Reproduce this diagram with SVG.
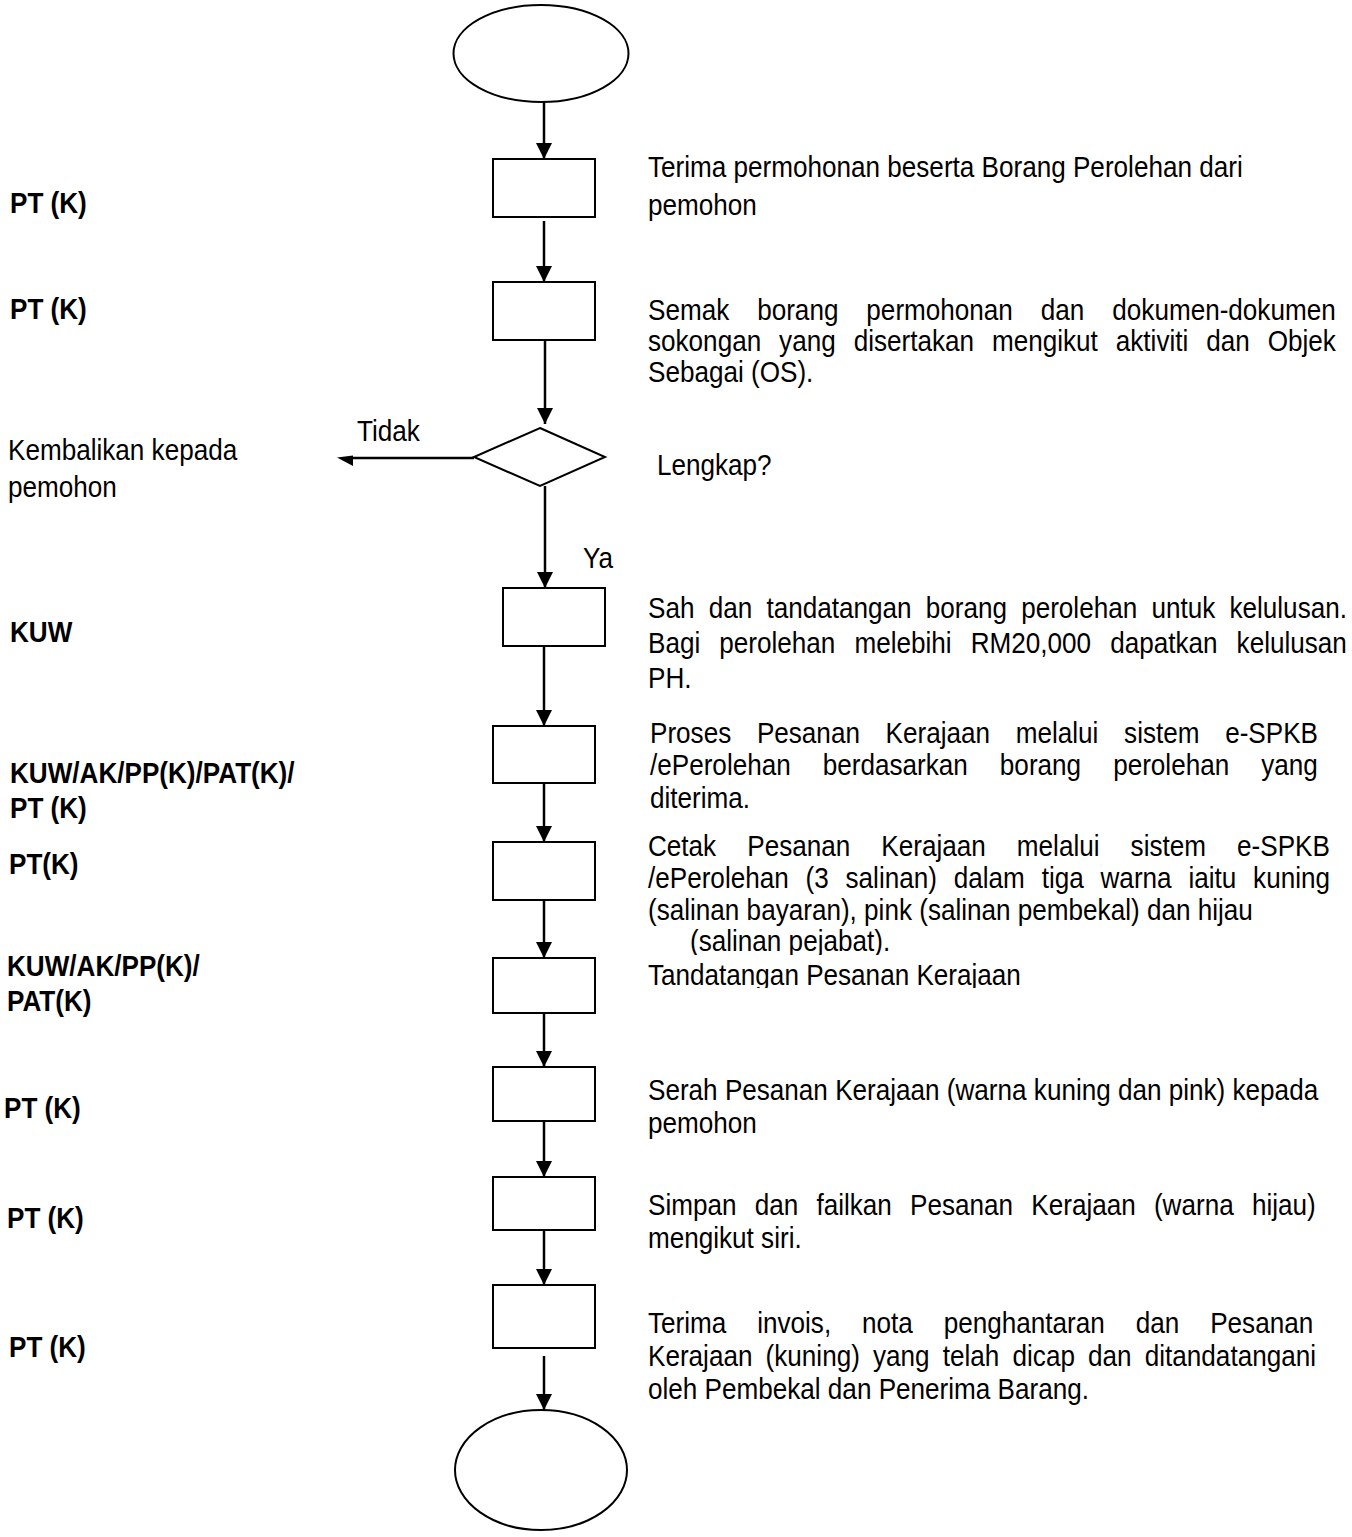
<svg xmlns="http://www.w3.org/2000/svg" width="1352" height="1537" viewBox="0 0 1352 1537">
  <style>
    .shape { fill: #ffffff; stroke: #000000; stroke-width: 2; }
    .flow { fill: none; stroke: #000000; stroke-width: 2.5; }
    .t { font-family: "Liberation Sans", Arial, sans-serif; font-size: 30px; fill: #000000; }
    .b { font-weight: bold; }
  </style>
  <defs>
    <marker id="ah" viewBox="0 0 16 16" markerWidth="16" markerHeight="16" refX="16" refY="8" orient="auto" markerUnits="userSpaceOnUse">
      <path d="M0,0 L16,8 L0,16 z" fill="#000000"/>
    </marker>
    <clipPath id="clipPejabat"><rect x="600" y="900" width="752" height="55"/></clipPath>
    <clipPath id="clipTanda"><rect x="600" y="955" width="752" height="33"/></clipPath>
  </defs>

  <rect width="1352" height="1537" fill="#ffffff"/>

  <!-- connectors -->
  <g id="connectors">
    <line class="flow" x1="544" y1="102" x2="544" y2="159" marker-end="url(#ah)"/>
    <line class="flow" x1="544" y1="221" x2="544" y2="282" marker-end="url(#ah)"/>
    <line class="flow" x1="545" y1="340" x2="545" y2="424" marker-end="url(#ah)"/>
    <line class="flow" x1="474" y1="458" x2="350" y2="458"/>
    <polygon points="337,457.5 353,455.5 353,466" fill="#000000"/>
    <line class="flow" x1="545" y1="486" x2="545" y2="588" marker-end="url(#ah)"/>
    <line class="flow" x1="544" y1="646" x2="544" y2="726" marker-end="url(#ah)"/>
    <line class="flow" x1="544" y1="783" x2="544" y2="842" marker-end="url(#ah)"/>
    <line class="flow" x1="544" y1="901" x2="544" y2="958" marker-end="url(#ah)"/>
    <line class="flow" x1="544" y1="1013" x2="544" y2="1067" marker-end="url(#ah)"/>
    <line class="flow" x1="544" y1="1121" x2="544" y2="1177" marker-end="url(#ah)"/>
    <line class="flow" x1="544" y1="1230" x2="544" y2="1285" marker-end="url(#ah)"/>
    <line class="flow" x1="544" y1="1356" x2="544" y2="1410" marker-end="url(#ah)"/>
  </g>

  <!-- flow nodes -->
  <g id="start"><ellipse class="shape" cx="541" cy="53.5" rx="87.5" ry="48.5"/></g>
  <g id="terima"><rect class="shape" x="493" y="159" width="102" height="58"/></g>
  <g id="semak"><rect class="shape" x="493" y="282" width="102" height="58"/></g>
  <g id="lengkap"><polygon class="shape" points="540,428 605,457 540,486 474,457"/></g>
  <g id="sah"><rect class="shape" x="503" y="588" width="102" height="58"/></g>
  <g id="proses"><rect class="shape" x="493" y="726" width="102" height="57"/></g>
  <g id="cetak"><rect class="shape" x="493" y="842" width="102" height="58"/></g>
  <g id="tandatangan"><rect class="shape" x="493" y="958" width="102" height="55"/></g>
  <g id="serah"><rect class="shape" x="493" y="1067" width="102" height="54"/></g>
  <g id="simpan"><rect class="shape" x="493" y="1177" width="102" height="53"/></g>
  <g id="terima-invois"><rect class="shape" x="493" y="1285" width="102" height="63"/></g>
  <g id="end"><ellipse class="shape" cx="541" cy="1470" rx="86" ry="60"/></g>

  <!-- branch labels -->
  <g id="branch-labels">
    <text class="t" transform="translate(357 441) scale(0.87 1)">Tidak</text>
    <text class="t" transform="translate(583 568) scale(0.87 1)">Ya</text>
    <text class="t" transform="translate(8 460) scale(0.87 1)"><tspan x="0" y="0">Kembalikan kepada</tspan><tspan x="0" y="37">pemohon</tspan></text>
  </g>

  <!-- responsible officers -->
  <g id="officers">
    <text class="t b" transform="translate(10 213) scale(0.87 1)">PT (K)</text>
    <text class="t b" transform="translate(10 319) scale(0.87 1)">PT (K)</text>
    <text class="t b" transform="translate(10 642) scale(0.87 1)">KUW</text>
    <text class="t b" transform="translate(10 783) scale(0.87 1)"><tspan x="0" y="0">KUW/AK/PP(K)/PAT(K)/</tspan><tspan x="0" y="35">PT (K)</tspan></text>
    <text class="t b" transform="translate(9 874) scale(0.87 1)">PT(K)</text>
    <text class="t b" transform="translate(7 976) scale(0.87 1)"><tspan x="0" y="0">KUW/AK/PP(K)/</tspan><tspan x="0" y="35">PAT(K)</tspan></text>
    <text class="t b" transform="translate(4 1118) scale(0.87 1)">PT (K)</text>
    <text class="t b" transform="translate(7 1228) scale(0.87 1)">PT (K)</text>
    <text class="t b" transform="translate(9 1357) scale(0.87 1)">PT (K)</text>
  </g>

  <!-- step descriptions -->
  <g id="descriptions">
    <text class="t" transform="translate(648 177) scale(0.87 1)"><tspan x="0" y="0">Terima permohonan beserta Borang Perolehan dari</tspan><tspan x="0" y="38">pemohon</tspan></text>
    <text class="t" transform="translate(648 320) scale(0.87 1)"><tspan x="0" y="0" word-spacing="23.8">Semak borang permohonan dan dokumen-dokumen</tspan><tspan x="0" y="31" word-spacing="12.3">sokongan yang disertakan mengikut aktiviti dan Objek</tspan><tspan x="0" y="62">Sebagai (OS).</tspan></text>
    <text class="t" transform="translate(657 475) scale(0.87 1)">Lengkap?</text>
    <text class="t" transform="translate(648 618) scale(0.87 1)"><tspan x="0" y="0" word-spacing="8">Sah dan tandatangan borang perolehan untuk kelulusan.</tspan><tspan x="0" y="35" word-spacing="13.6">Bagi perolehan melebihi RM20,000 dapatkan kelulusan</tspan><tspan x="0" y="70">PH.</tspan></text>
    <text class="t" transform="translate(650 743) scale(0.87 1)"><tspan x="0" y="0" word-spacing="21.2">Proses Pesanan Kerajaan melalui sistem e-SPKB</tspan><tspan x="0" y="32" word-spacing="28.5">/ePerolehan berdasarkan borang perolehan yang</tspan><tspan x="0" y="65">diterima.</tspan></text>
    <text class="t" transform="translate(648 856) scale(0.87 1)"><tspan x="0" y="0" word-spacing="27.4">Cetak Pesanan Kerajaan melalui sistem e-SPKB</tspan><tspan x="0" y="32" word-spacing="11">/ePerolehan (3 salinan) dalam tiga warna iaitu kuning</tspan><tspan x="0" y="64">(salinan bayaran), pink (salinan pembekal) dan hijau</tspan></text>
    <g clip-path="url(#clipPejabat)">
      <text class="t" transform="translate(690 951) scale(0.87 1)">(salinan pejabat).</text>
    </g>
    <g clip-path="url(#clipTanda)">
      <text class="t" transform="translate(648 985) scale(0.87 1)">Tandatangan Pesanan Kerajaan</text>
    </g>
    <text class="t" transform="translate(648 1100) scale(0.87 1)"><tspan x="0" y="0">Serah Pesanan Kerajaan (warna kuning dan pink) kepada</tspan><tspan x="0" y="33">pemohon</tspan></text>
    <text class="t" transform="translate(648 1215) scale(0.87 1)"><tspan x="0" y="0" word-spacing="12.6">Simpan dan failkan Pesanan Kerajaan (warna hijau)</tspan><tspan x="0" y="33">mengikut siri.</tspan></text>
    <text class="t" transform="translate(648 1333) scale(0.87 1)"><tspan x="0" y="0" word-spacing="27.2">Terima invois, nota penghantaran dan Pesanan</tspan><tspan x="0" y="33" word-spacing="6.8">Kerajaan (kuning) yang telah dicap dan ditandatangani</tspan><tspan x="0" y="66">oleh Pembekal dan Penerima Barang.</tspan></text>
  </g>
</svg>
